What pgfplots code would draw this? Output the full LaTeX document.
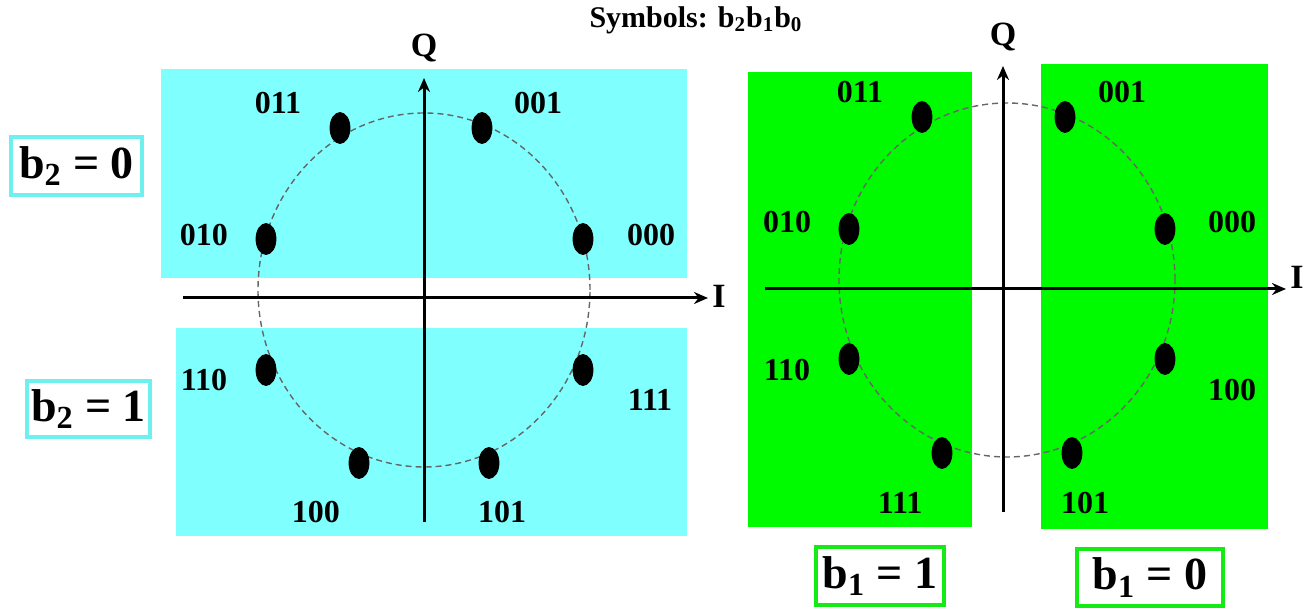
\documentclass[border=0pt]{standalone}
\usepackage{fontspec}
\setmainfont{Liberation Serif}
\usepackage{pgfplots}
\pgfplotsset{compat=1.18}
\usetikzlibrary{arrows.meta}
\definecolor{cyanbg}{RGB}{128,255,255}
\definecolor{greenbg}{RGB}{0,250,0}
\definecolor{cyanbd}{RGB}{110,240,240}
\definecolor{greenbd}{RGB}{20,235,20}
\newcommand{\lbl}{\fontsize{16}{18}\selectfont\bfseries}
\newcommand{\bigf}{\fontsize{23}{26}\selectfont\bfseries}
\newcommand{\ax}{\fontsize{17}{19}\selectfont\bfseries}
\tikzset{
  axarrow/.style={line width=1.5pt,-{Stealth[length=7pt,width=6pt]}},
  dcirc/.style={gray!80!black,line width=0.7pt,dash pattern=on 3pt off 2pt},
  pt/.style={only marks,mark=*,mark size=5pt,mark options={black,yscale=1.55}},
}
\begin{document}
\begin{tikzpicture}
\useasboundingbox (0,0) rectangle (657pt,-306.5pt);
% ---------------- left constellation ----------------
\begin{axis}[at={(72pt,-274pt)},anchor=south west,scale only axis,
  width=285pt,height=260pt,xmin=-280,xmax=290,ymin=-250,ymax=270,
  hide axis,clip=false]
\fill[cyanbg] (axis cs:-263,229) rectangle (axis cs:263,20);
\fill[cyanbg] (axis cs:-248,-30) rectangle (axis cs:263,-238);
\draw[dcirc] (axis cs:0,8) ellipse [x radius=83pt,y radius=88.5pt];
\draw[axarrow] (axis cs:0,-224) -- (axis cs:0,220);
\draw[axarrow] (axis cs:-241,0) -- (axis cs:284,0);
\node[font=\ax] at (axis cs:0,250) {Q};
\node[font=\ax] at (axis cs:295,2) {I};
\addplot[pt] coordinates {(-84,170) (58,170) (-158,59) (159,59) (-158,-72) (159,-72) (-65,-165) (65,-165)};
\node[font=\lbl] at (axis cs:-146,195) {011};
\node[font=\lbl] at (axis cs:114,195) {001};
\node[font=\lbl] at (axis cs:-220,63) {010};
\node[font=\lbl] at (axis cs:227,63) {000};
\node[font=\lbl] at (axis cs:-220,-82) {110};
\node[font=\lbl] at (axis cs:226,-102) {111};
\node[font=\lbl] at (axis cs:-108,-214) {100};
\node[font=\lbl] at (axis cs:78,-214) {101};
\node[draw=cyanbd,line width=2pt,fill=white,minimum width=65.5pt,minimum height=29pt,inner sep=0pt,font=\bigf] at (axis cs:-347.5,132) {b\textsubscript{2} = 0};
\node[draw=cyanbd,line width=2pt,fill=white,minimum width=61.5pt,minimum height=28pt,inner sep=0pt,font=\bigf] at (axis cs:-335.5,-111) {b\textsubscript{2} = 1};
\node[font=\fontsize{15}{17}\selectfont\bfseries] at (axis cs:272,278) {Symbols: b\textsubscript{2}b\textsubscript{1}b\textsubscript{0}};
\end{axis}
% ---------------- right constellation ----------------
\begin{axis}[at={(366.5pt,-294.5pt)},anchor=south west,scale only axis,
  width=285pt,height=280pt,xmin=-270,xmax=300,ymin=-300,ymax=260,
  hide axis,clip=false]
\fill[greenbg] (axis cs:-255,217) rectangle (axis cs:-31,-238);
\fill[greenbg] (axis cs:38,225) rectangle (axis cs:265,-240);
\draw[dcirc] (axis cs:4,9) ellipse [x radius=84pt,y radius=88.5pt];
\draw[axarrow] (axis cs:0,-223) -- (axis cs:0,223);
\draw[axarrow] (axis cs:-238,0) -- (axis cs:283,0);
\node[font=\ax] at (axis cs:0,252) {Q};
\node[font=\ax] at (axis cs:294,12) {I};
\addplot[pt] coordinates {(-81,172) (62,172) (-154,60) (162,60) (-154,-70) (162,-70) (-61,-164) (69,-164)};
\node[font=\lbl] at (axis cs:-143,197) {011};
\node[font=\lbl] at (axis cs:119,197) {001};
\node[font=\lbl] at (axis cs:-216,67) {010};
\node[font=\lbl] at (axis cs:229,67) {000};
\node[font=\lbl] at (axis cs:-216,-81) {110};
\node[font=\lbl] at (axis cs:229,-101) {100};
\node[font=\lbl] at (axis cs:-103,-214) {111};
\node[font=\lbl] at (axis cs:82,-214) {101};
\node[draw=greenbd,line width=2pt,fill=white,minimum width=64pt,minimum height=29pt,inner sep=0pt,font=\bigf] at (axis cs:-123,-287) {b\textsubscript{1} = 1};
\node[draw=greenbd,line width=2pt,fill=white,minimum width=73pt,minimum height=28.5pt,inner sep=0pt,font=\bigf] at (axis cs:147,-288.5) {b\textsubscript{1} = 0};
\end{axis}
\end{tikzpicture}
\end{document}
